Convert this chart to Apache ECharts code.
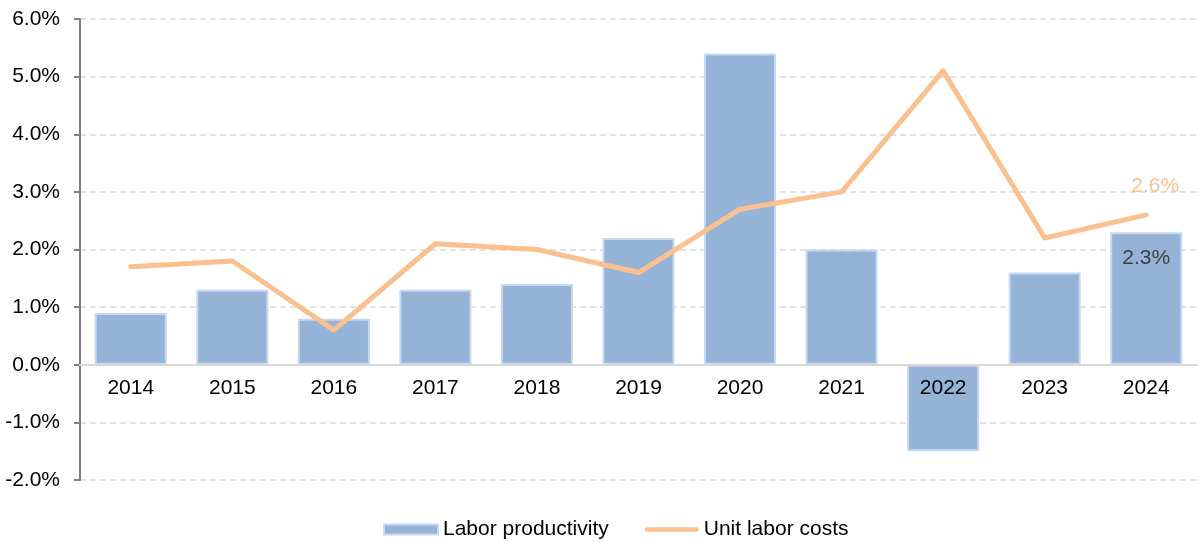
<!DOCTYPE html>
<html>
<head>
<meta charset="utf-8">
<script src="https://cdn.jsdelivr.net/npm/echarts@6/dist/echarts.min.js"></script>
<style>
html,body{margin:0;padding:0;background:#fff;}
#chart{width:1199px;height:542px;}
</style>
</head>
<body>
<div id="chart"></div>
<script>
// Annual growth rates, percent
const years = ['2014','2015','2016','2017','2018','2019','2020','2021','2022','2023','2024'];
const laborProductivity = [0.9, 1.3, 0.8, 1.3, 1.4, 2.2, 5.4, 2.0, -1.5, 1.6, 2.3];
const unitLaborCosts = [1.7, 1.8, 0.6, 2.1, 2.0, 1.6, 2.7, 3.0, 5.1, 2.2, 2.6];
const yTicks = { min: -2, max: 6, step: 1 };

const FONT = '"Liberation Sans", Arial, sans-serif';
const FS = 21;
const lastIdx = years.length - 1;

const GRID = { left: 80, right: 2, top: 19, bottom: 62 };
const plotH = 542 - GRID.top - GRID.bottom;
// distance from the bottom of the plot to the zero line, so category labels sit under it
const zeroOffset = plotH * (0 - yTicks.min) / (yTicks.max - yTicks.min);

const pct = v => v.toFixed(1) + '%';

const chart = echarts.init(document.getElementById('chart'), null, { renderer: 'canvas' });
chart.setOption({
  animation: false,
  textStyle: { fontFamily: FONT },
  grid: Object.assign({ containLabel: false }, GRID),
  legend: {
    bottom: -3,
    left: 378,
    itemGap: 36,
    itemWidth: 54,
    itemHeight: 10,
    textStyle: { fontFamily: FONT, fontSize: FS, color: '#000' },
    data: [
      { name: 'Labor productivity', icon: 'rect' },
      { name: 'Unit labor costs',
        icon: 'path://M2.5,0 H54.5 A2.5,2.5 0 0 1 54.5,5 H2.5 A2.5,2.5 0 0 1 2.5,0 Z',
        itemStyle: { color: '#fac090' } }
    ]
  },
  xAxis: {
    type: 'category',
    data: years,
    position: 'bottom',
    offset: -zeroOffset,
    z: 10,
    axisLine: { onZero: false, lineStyle: { color: '#d9d9d9', width: 2 } },
    axisTick: { show: false },
    axisLabel: { color: '#000', fontSize: FS, fontFamily: FONT, margin: 13 },
    splitLine: { show: false }
  },
  yAxis: {
    type: 'value',
    min: yTicks.min,
    max: yTicks.max,
    interval: yTicks.step,
    axisLine: { show: true, lineStyle: { color: '#7f7f7f', width: 2 } },
    axisTick: { show: true, length: 6, lineStyle: { color: '#7f7f7f', width: 2 } },
    axisLabel: { color: '#000', fontSize: FS, fontFamily: FONT, margin: 20, formatter: pct },
    splitLine: { show: true, lineStyle: { color: '#d9d9d9', type: [6, 4], width: 1.5 } }
  },
  series: [
    {
      name: 'Labor productivity',
      type: 'bar',
      data: laborProductivity.map((v, i) => ({
        value: v,
        label: i === lastIdx ? {
          show: true, position: 'insideTop', distance: 15,
          color: '#404040', fontSize: FS, fontFamily: FONT,
          formatter: p => pct(p.value)
        } : { show: false }
      })),
      barCategoryGap: '29%',
      itemStyle: { color: '#95b3d7', borderColor: '#c6d9f1', borderWidth: 2 },
      z: 2
    },
    {
      name: 'Unit labor costs',
      type: 'line',
      data: unitLaborCosts.map((v, i) => ({
        value: v,
        label: i === lastIdx ? {
          show: true, position: 'top', distance: 18, offset: [9, 0],
          color: '#fac090', fontSize: FS, fontFamily: FONT,
          formatter: p => pct(p.value)
        } : { show: false }
      })),
      symbol: 'circle',
      symbolSize: 1,
      showSymbol: true,
      lineStyle: { color: '#fac090', width: 5, cap: 'round', join: 'round' },
      itemStyle: { color: '#fac090' },
      z: 3
    }
  ]
});
</script>
</body>
</html>
